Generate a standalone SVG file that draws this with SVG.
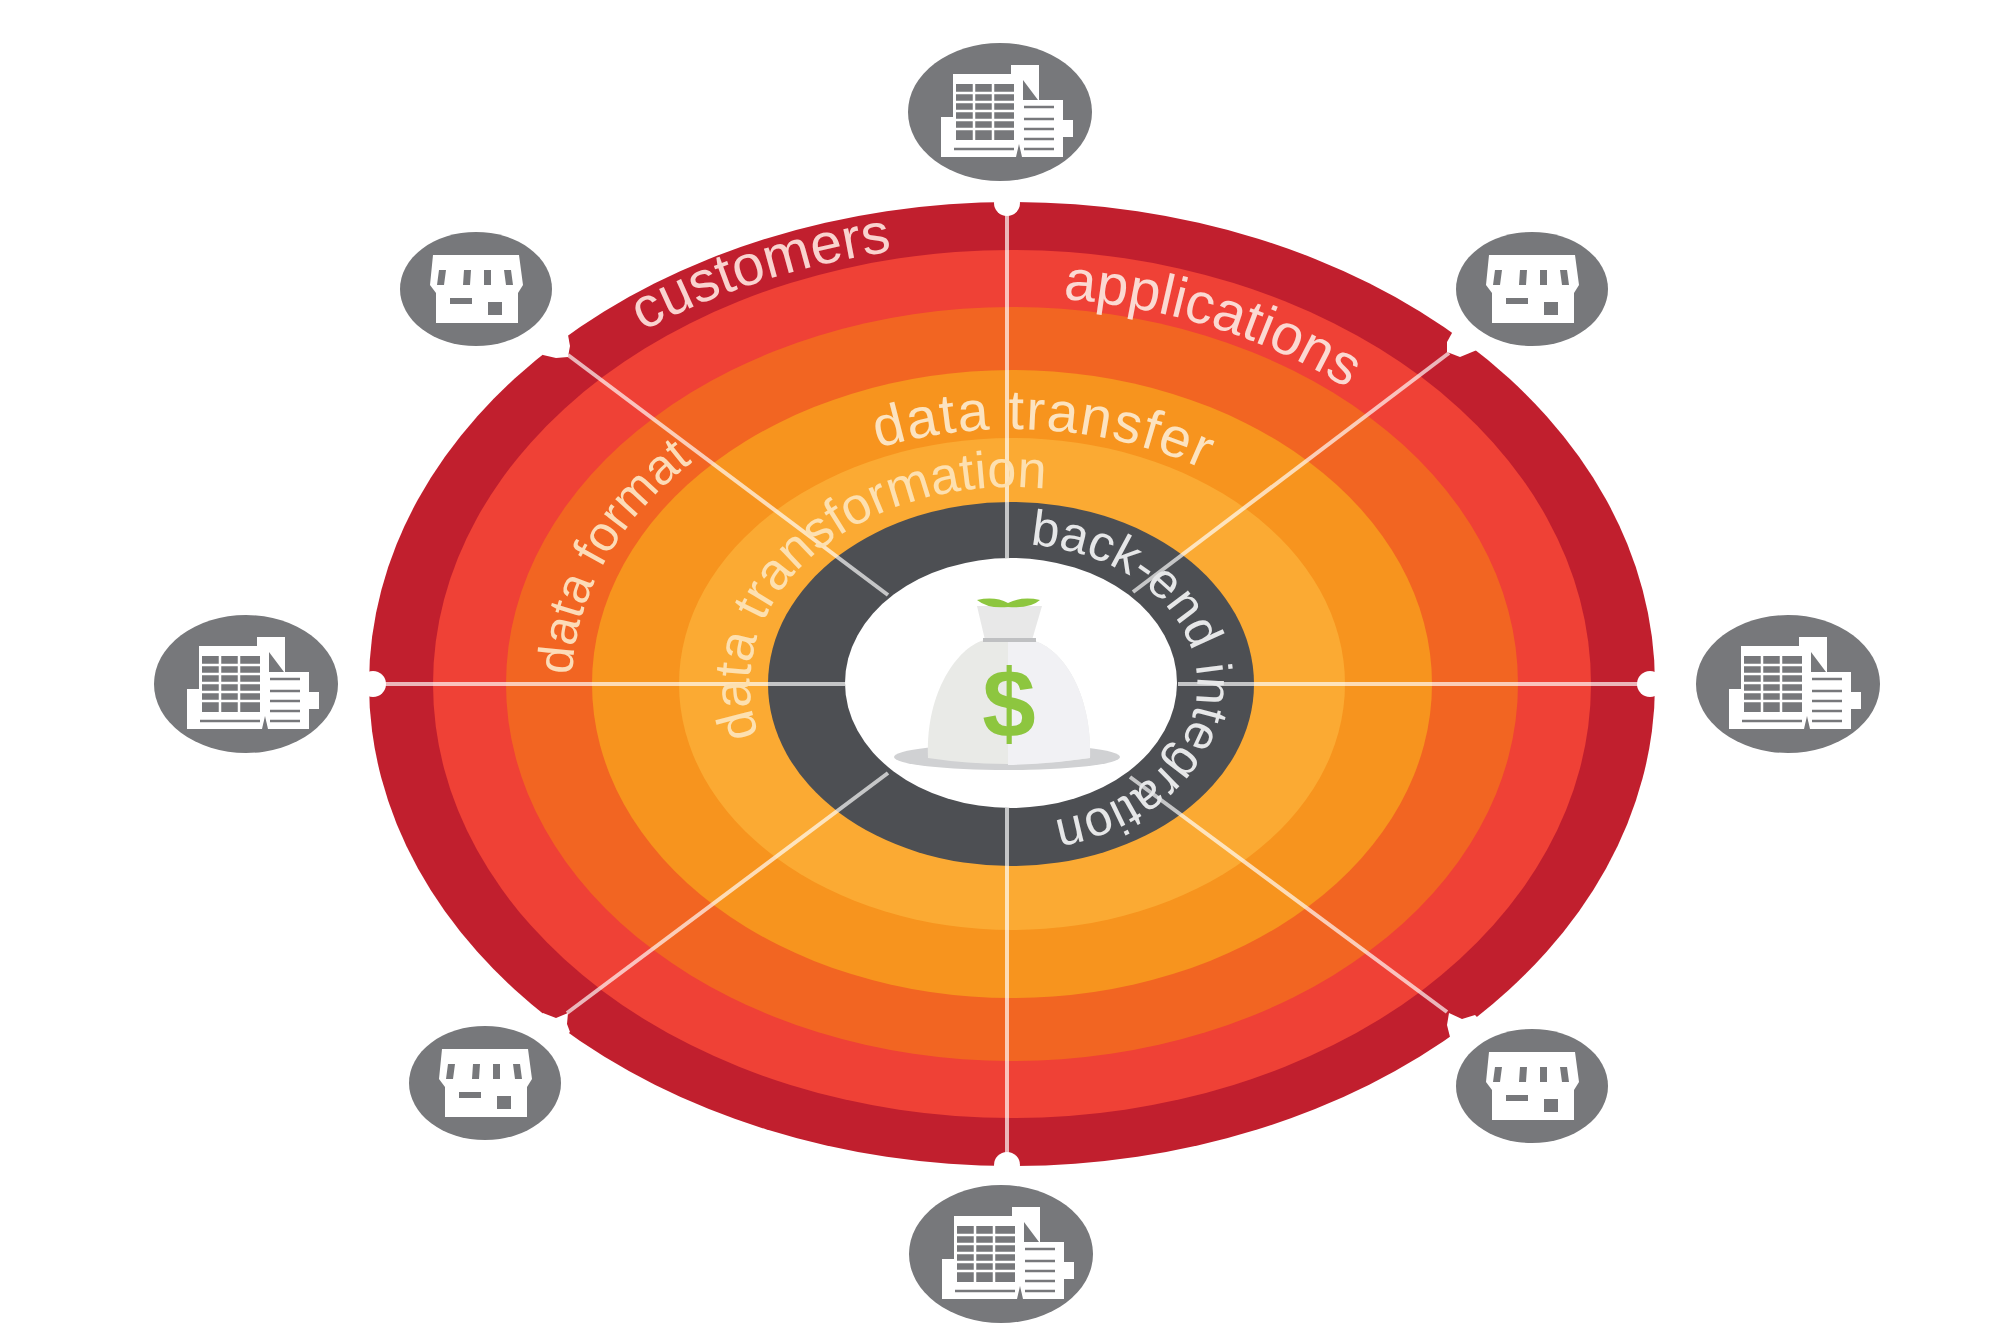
<svg xmlns="http://www.w3.org/2000/svg" xmlns:xlink="http://www.w3.org/1999/xlink" width="2016" height="1344" viewBox="0 0 2016 1344">
<style>
.lab{font-family:"Liberation Sans",Arial,sans-serif;}
.spoke{stroke:#fff;stroke-opacity:.68;stroke-width:4;fill:none;}
.disc{fill:#77787b;}
.w{fill:#fff;}
.g{fill:#77787b;}
</style>
<defs>
<path id="p-cust" d="M643,331.2 A615,441 0 0 1 1400,341.8"/>
<path id="p-appl" d="M1063,299 A520,386 0 0 1 1480,516"/>
<path id="p-xfer" d="M878,448 A355,255 0 0 1 1331.5,573"/>
<path id="p-xfrm" d="M759,735.2 A262,197 0 0 1 1247.8,598.1"/>
<path id="p-fmt" d="M572.2,675 A440,323 0 0 1 880,375.9"/>
<path id="p-back" d="M1030,544.7 A185,140 0 1 1 938,812.3"/>
<g id="bld">
<ellipse class="disc" rx="92" ry="69"/>
<g transform="translate(1 2)">
<path class="w" d="M-48,-40H10V-49H38V-14H62V6H72V23H62V43H-60V3H-48Z"/>
<path class="g" d="M22,-34L37,-14H22Z"/>
<path class="g" d="M15,43L18,30L21,43Z"/>
<path d="M-45,-30H13V26H-45Z" fill="#77787b"/>
<path d="M-45,-21H13M-45,-12H13M-45,-3H13M-45,6H13M-45,15H13M-27,-30V26M-8,-30V26" stroke="#fff" stroke-width="2.5" fill="none"/>
<path d="M23,-7H53M23,5H53M23,15H53M23,25H53M23,35H53M-47,35H13" stroke="#77787b" stroke-width="2.5" fill="none"/>
</g>
</g>
<g id="sto">
<ellipse class="disc" rx="76" ry="57"/>
<path class="w" d="M-43,-34H43L47,-4L42,4V34H-40V4L-46,-4Z"/>
<path class="g" d="M-37,-19H-30L-32,-4H-39ZM-12,-19H-5L-6,-4H-13ZM8,-19H15L15,-4H8ZM28,-19H35L37,-4H30Z"/>
<rect class="g" x="-26" y="9" width="22" height="6"/>
<rect class="g" x="12" y="13" width="14" height="13"/>
</g>
</defs>
<rect width="2016" height="1344" fill="#fff"/>
<g id="rings">
<ellipse cx="1012" cy="684" rx="643" ry="482" fill="#c11f2e"/>
<ellipse cx="1012" cy="684" rx="579" ry="434" fill="#ef4136"/>
<ellipse cx="1012" cy="684" rx="506" ry="377" fill="#f26522"/>
<ellipse cx="1012" cy="684" rx="420" ry="314" fill="#f7941e"/>
<ellipse cx="1012" cy="684" rx="333" ry="246" fill="#fbaa33"/>
<ellipse cx="1011" cy="684" rx="243" ry="182" fill="#4d4f53"/>
<ellipse cx="1011" cy="683" rx="166" ry="125" fill="#fff"/>
</g>
<g id="notches" fill="#fff">
<circle cx="1007" cy="203" r="13"/>
<circle cx="1007" cy="1165" r="13"/>
<circle cx="373" cy="684" r="13"/>
<circle cx="1650" cy="684" r="13"/>
<path d="M568,335L570,346L568,357L556,358L543,355L530,340L555,325Z"/>
<path d="M1452,333L1447,342L1447,352L1460,357L1477,350L1490,335L1465,320Z"/>
<path d="M1475,1015L1462,1019L1449,1013L1447,1025L1450,1037L1465,1050L1490,1030Z"/>
<path d="M543,1013L556,1018L568,1013L567,1024L570,1032L555,1045L530,1030Z"/>
</g>
<g id="connectors">
<path class="spoke" d="M1007,215V558"/>
<path class="spoke" d="M1007,808V1153"/>
<path class="spoke" d="M385,684H845"/>
<path class="spoke" d="M1178,684H1638"/>
<path class="spoke" d="M568,355L888,595"/>
<path class="spoke" d="M1449,353L1133,592"/>
<path class="spoke" d="M1447,1012L1130,777"/>
<path class="spoke" d="M567,1013L888,773"/>
</g>
<g id="labels" class="lab">
<text font-size="57" fill="#f9d3cf"><textPath href="#p-cust">customers</textPath></text>
<text font-size="57" fill="#fbd9d2"><textPath href="#p-appl">applications</textPath></text>
<text font-size="56" letter-spacing="1.5" fill="#fce3c0"><textPath href="#p-xfer">data transfer</textPath></text>
<text font-size="52" fill="#fde0b0"><textPath href="#p-xfrm">data transformation</textPath></text>
<text font-size="50" fill="#fcdcb8"><textPath href="#p-fmt">data format</textPath></text>
<text font-size="50" fill="#e6e7e8"><textPath href="#p-back">back-end integration</textPath></text>
</g>
<g id="center">
<ellipse cx="1007" cy="757" rx="113" ry="13" fill="#d0d1d3"/>
<path d="M928,758C925,690 960,645 985,640H1030C1060,645 1092,690 1090,758Q1007,770 928,758Z" fill="#e9eae7"/>
<path d="M1008,640H1030C1060,645 1092,690 1090,758Q1050,764 1008,765Z" fill="#f1f1f4"/>
<path d="M985,640L977,606H1042L1032,640Z" fill="#e8e8e8"/>
<path d="M983,640H1036" stroke="#bfc0c2" stroke-width="4"/>
<path d="M977,600Q995,596 1008,603Q1022,596 1040,600Q1030,609 1008,607Q988,609 977,600Z" fill="#8dc63f"/>
<text class="lab" x="1009" y="737" font-size="96" font-weight="700" text-anchor="middle" fill="#8dc63f">$</text>
</g>
<use id="node-top" href="#bld" x="1000" y="112"/>
<use id="node-bottom" href="#bld" x="1001" y="1254"/>
<use id="node-left" href="#bld" x="246" y="684"/>
<use id="node-right" href="#bld" x="1788" y="684"/>
<use id="node-tl" href="#sto" x="476" y="289"/>
<use id="node-tr" href="#sto" x="1532" y="289"/>
<use id="node-bl" href="#sto" x="485" y="1083"/>
<use id="node-br" href="#sto" x="1532" y="1086"/>
</svg>
